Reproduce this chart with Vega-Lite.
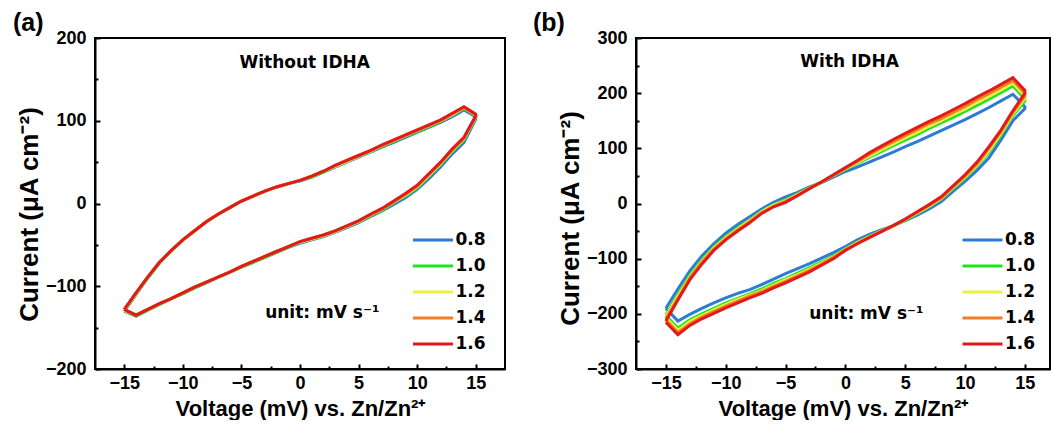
{
  "$schema": "https://vega.github.io/schema/vega-lite/v6.json",
  "padding": {"left": 12, "top": 10, "right": 0, "bottom": 0},
  "bounds": "flush",
  "spacing": 131,
  "config": {
    "view": {"stroke": "black", "strokeWidth": 2},
    "font": "Liberation Sans",
    "axis": {"domainColor": "black", "domainWidth": 2, "tickColor": "black", "tickWidth": 2, "tickSize": -5, "labelColor": "black", "titleColor": "black", "labelFont": "Liberation Sans", "titleFont": "Liberation Sans", "labelFontSize": 18, "labelFontWeight": "bold", "titleFontSize": 22, "titleFontWeight": "bold", "grid": false},
    "axisX": {"labelPadding": 10, "titlePadding": 6},
    "axisY": {"labelPadding": 14, "titlePadding": 3, "titleFontSize": 26},
    "legend": {"orient": "none", "title": null, "symbolType": "M-4,0H4", "symbolSize": 100, "symbolStrokeWidth": 3, "labelFont": "DejaVu Sans", "labelFontSize": 17, "labelFontWeight": "bold", "labelColor": "black", "rowPadding": 8, "labelOffset": 14, "padding": 0},
    "title": {"font": "Liberation Sans", "fontSize": 25, "fontWeight": "bold", "color": "black", "anchor": "start", "frame": "group", "offset": -7}
  },
  "datasets": {
    "a": [
      {"i":0,"v":-15,"0.8":-130,"1.0":-129,"1.2":-129,"1.4":-128,"1.6":-128},
      {"i":1,"v":-14,"0.8":-110,"1.0":-109,"1.2":-109,"1.4":-108,"1.6":-108},
      {"i":2,"v":-13,"0.8":-90,"1.0":-90,"1.2":-89,"1.4":-89,"1.6":-89},
      {"i":3,"v":-12,"0.8":-72,"1.0":-72,"1.2":-71,"1.4":-71,"1.6":-71},
      {"i":4,"v":-11,"0.8":-57,"1.0":-57,"1.2":-57,"1.4":-57,"1.6":-57},
      {"i":5,"v":-10,"0.8":-44,"1.0":-44,"1.2":-44,"1.4":-44,"1.6":-44},
      {"i":6,"v":-9,"0.8":-33,"1.0":-33,"1.2":-33,"1.4":-33,"1.6":-33},
      {"i":7,"v":-8,"0.8":-22,"1.0":-22,"1.2":-22,"1.4":-22,"1.6":-22},
      {"i":8,"v":-7,"0.8":-13,"1.0":-13,"1.2":-13,"1.4":-13,"1.6":-13},
      {"i":9,"v":-6,"0.8":-5,"1.0":-5,"1.2":-5,"1.4":-5,"1.6":-5},
      {"i":10,"v":-5,"0.8":3,"1.0":3,"1.2":3,"1.4":3,"1.6":3},
      {"i":11,"v":-4,"0.8":9,"1.0":9,"1.2":9,"1.4":9,"1.6":9},
      {"i":12,"v":-3,"0.8":15,"1.0":15,"1.2":15,"1.4":15,"1.6":15},
      {"i":13,"v":-2,"0.8":20,"1.0":20,"1.2":20,"1.4":20,"1.6":20},
      {"i":14,"v":-1,"0.8":24,"1.0":24,"1.2":24,"1.4":24,"1.6":24},
      {"i":15,"v":0,"0.8":27,"1.0":28,"1.2":28,"1.4":28,"1.6":28},
      {"i":16,"v":1,"0.8":32,"1.0":32,"1.2":33,"1.4":33,"1.6":33},
      {"i":17,"v":2,"0.8":38,"1.0":38,"1.2":39,"1.4":39,"1.6":39},
      {"i":18,"v":3,"0.8":44,"1.0":45,"1.2":45,"1.4":46,"1.6":46},
      {"i":19,"v":4,"0.8":50,"1.0":51,"1.2":51,"1.4":52,"1.6":52},
      {"i":20,"v":5,"0.8":56,"1.0":57,"1.2":57,"1.4":58,"1.6":58},
      {"i":21,"v":6,"0.8":62,"1.0":63,"1.2":63,"1.4":64,"1.6":64},
      {"i":22,"v":7,"0.8":68,"1.0":69,"1.2":70,"1.4":70,"1.6":71},
      {"i":23,"v":8,"0.8":74,"1.0":75,"1.2":76,"1.4":76,"1.6":77},
      {"i":24,"v":9,"0.8":80,"1.0":81,"1.2":82,"1.4":82,"1.6":83},
      {"i":25,"v":10,"0.8":86,"1.0":87,"1.2":88,"1.4":88,"1.6":89},
      {"i":26,"v":11,"0.8":92,"1.0":93,"1.2":94,"1.4":94,"1.6":95},
      {"i":27,"v":12,"0.8":98,"1.0":99,"1.2":100,"1.4":100,"1.6":101},
      {"i":28,"v":13,"0.8":105,"1.0":107,"1.2":107,"1.4":108,"1.6":109},
      {"i":29,"v":14,"0.8":113,"1.0":115,"1.2":116,"1.4":116,"1.6":117},
      {"i":30,"v":15,"0.8":105,"1.0":106,"1.2":107,"1.4":107,"1.6":108},
      {"i":31,"v":15,"0.8":102,"1.0":104,"1.2":105,"1.4":105,"1.6":106},
      {"i":32,"v":14,"0.8":74,"1.0":77,"1.2":78,"1.4":79,"1.6":80},
      {"i":33,"v":13,"0.8":60,"1.0":63,"1.2":64,"1.4":65,"1.6":66},
      {"i":34,"v":12,"0.8":44,"1.0":47,"1.2":48,"1.4":49,"1.6":50},
      {"i":35,"v":11,"0.8":30,"1.0":33,"1.2":34,"1.4":35,"1.6":36},
      {"i":36,"v":10,"0.8":17,"1.0":19,"1.2":20,"1.4":21,"1.6":22},
      {"i":37,"v":9,"0.8":7,"1.0":9,"1.2":10,"1.4":11,"1.6":12},
      {"i":38,"v":8,"0.8":-1,"1.0":1,"1.2":2,"1.4":2,"1.6":3},
      {"i":39,"v":7,"0.8":-9,"1.0":-8,"1.2":-7,"1.4":-7,"1.6":-6},
      {"i":40,"v":6,"0.8":-16,"1.0":-15,"1.2":-14,"1.4":-14,"1.6":-13},
      {"i":41,"v":5,"0.8":-23,"1.0":-22,"1.2":-22,"1.4":-21,"1.6":-21},
      {"i":42,"v":4,"0.8":-29,"1.0":-28,"1.2":-28,"1.4":-27,"1.6":-27},
      {"i":43,"v":3,"0.8":-35,"1.0":-34,"1.2":-34,"1.4":-33,"1.6":-33},
      {"i":44,"v":2,"0.8":-40,"1.0":-39,"1.2":-39,"1.4":-38,"1.6":-38},
      {"i":45,"v":1,"0.8":-44,"1.0":-43,"1.2":-43,"1.4":-42,"1.6":-42},
      {"i":46,"v":0,"0.8":-48,"1.0":-47,"1.2":-47,"1.4":-46,"1.6":-46},
      {"i":47,"v":-1,"0.8":-53,"1.0":-53,"1.2":-52,"1.4":-52,"1.6":-52},
      {"i":48,"v":-2,"0.8":-59,"1.0":-59,"1.2":-58,"1.4":-58,"1.6":-58},
      {"i":49,"v":-3,"0.8":-65,"1.0":-65,"1.2":-64,"1.4":-64,"1.6":-64},
      {"i":50,"v":-4,"0.8":-71,"1.0":-71,"1.2":-70,"1.4":-70,"1.6":-70},
      {"i":51,"v":-5,"0.8":-77,"1.0":-77,"1.2":-76,"1.4":-76,"1.6":-76},
      {"i":52,"v":-6,"0.8":-83,"1.0":-83,"1.2":-83,"1.4":-83,"1.6":-83},
      {"i":53,"v":-7,"0.8":-89,"1.0":-89,"1.2":-89,"1.4":-89,"1.6":-89},
      {"i":54,"v":-8,"0.8":-96,"1.0":-96,"1.2":-95,"1.4":-95,"1.6":-95},
      {"i":55,"v":-9,"0.8":-102,"1.0":-102,"1.2":-101,"1.4":-101,"1.6":-101},
      {"i":56,"v":-10,"0.8":-109,"1.0":-109,"1.2":-108,"1.4":-108,"1.6":-108},
      {"i":57,"v":-11,"0.8":-115,"1.0":-115,"1.2":-115,"1.4":-115,"1.6":-115},
      {"i":58,"v":-12,"0.8":-122,"1.0":-122,"1.2":-121,"1.4":-121,"1.6":-121},
      {"i":59,"v":-13,"0.8":-129,"1.0":-129,"1.2":-128,"1.4":-128,"1.6":-128},
      {"i":60,"v":-14,"0.8":-136,"1.0":-136,"1.2":-135,"1.4":-135,"1.6":-135},
      {"i":61,"v":-15,"0.8":-130,"1.0":-129,"1.2":-129,"1.4":-128,"1.6":-128}
    ],
    "b": [
      {"i":0,"v":-15,"0.8":-190,"1.0":-202,"1.2":-205,"1.4":-209,"1.6":-213},
      {"i":1,"v":-14,"0.8":-155,"1.0":-165,"1.2":-168,"1.4":-172,"1.6":-175},
      {"i":2,"v":-13,"0.8":-122,"1.0":-130,"1.2":-133,"1.4":-135,"1.6":-138},
      {"i":3,"v":-12,"0.8":-95,"1.0":-103,"1.2":-105,"1.4":-107,"1.6":-110},
      {"i":4,"v":-11,"0.8":-73,"1.0":-79,"1.2":-81,"1.4":-83,"1.6":-85},
      {"i":5,"v":-10,"0.8":-54,"1.0":-60,"1.2":-62,"1.4":-64,"1.6":-66},
      {"i":6,"v":-9,"0.8":-38,"1.0":-44,"1.2":-46,"1.4":-48,"1.6":-50},
      {"i":7,"v":-8,"0.8":-24,"1.0":-30,"1.2":-31,"1.4":-33,"1.6":-35},
      {"i":8,"v":-7,"0.8":-10,"1.0":-14,"1.2":-15,"1.4":-17,"1.6":-18},
      {"i":9,"v":-6,"0.8":2,"1.0":-2,"1.2":-3,"1.4":-5,"1.6":-6},
      {"i":10,"v":-5,"0.8":12,"1.0":7,"1.2":5,"1.4":4,"1.6":2},
      {"i":11,"v":-4,"0.8":20,"1.0":17,"1.2":16,"1.4":15,"1.6":14},
      {"i":12,"v":-3,"0.8":30,"1.0":29,"1.2":28,"1.4":28,"1.6":27},
      {"i":13,"v":-2,"0.8":38,"1.0":39,"1.2":39,"1.4":39,"1.6":39},
      {"i":14,"v":-1,"0.8":48,"1.0":50,"1.2":51,"1.4":51,"1.6":52},
      {"i":15,"v":0,"0.8":58,"1.0":62,"1.2":63,"1.4":64,"1.6":65},
      {"i":16,"v":1,"0.8":66,"1.0":72,"1.2":74,"1.4":76,"1.6":78},
      {"i":17,"v":2,"0.8":75,"1.0":84,"1.2":86,"1.4":89,"1.6":92},
      {"i":18,"v":3,"0.8":84,"1.0":94,"1.2":97,"1.4":101,"1.6":104},
      {"i":19,"v":4,"0.8":93,"1.0":105,"1.2":108,"1.4":112,"1.6":116},
      {"i":20,"v":5,"0.8":103,"1.0":115,"1.2":119,"1.4":123,"1.6":127},
      {"i":21,"v":6,"0.8":112,"1.0":125,"1.2":129,"1.4":134,"1.6":138},
      {"i":22,"v":7,"0.8":122,"1.0":136,"1.2":140,"1.4":145,"1.6":149},
      {"i":23,"v":8,"0.8":132,"1.0":146,"1.2":150,"1.4":154,"1.6":159},
      {"i":24,"v":9,"0.8":142,"1.0":156,"1.2":161,"1.4":165,"1.6":170},
      {"i":25,"v":10,"0.8":152,"1.0":167,"1.2":171,"1.4":176,"1.6":181},
      {"i":26,"v":11,"0.8":163,"1.0":178,"1.2":183,"1.4":188,"1.6":193},
      {"i":27,"v":12,"0.8":174,"1.0":189,"1.2":194,"1.4":199,"1.6":204},
      {"i":28,"v":13,"0.8":186,"1.0":201,"1.2":206,"1.4":211,"1.6":216},
      {"i":29,"v":14,"0.8":198,"1.0":213,"1.2":218,"1.4":223,"1.6":228},
      {"i":30,"v":15,"0.8":175,"1.0":190,"1.2":195,"1.4":200,"1.6":205},
      {"i":31,"v":15,"0.8":172,"1.0":186,"1.2":191,"1.4":195,"1.6":200},
      {"i":32,"v":14,"0.8":150,"1.0":159,"1.2":162,"1.4":165,"1.6":168},
      {"i":33,"v":13,"0.8":115,"1.0":124,"1.2":127,"1.4":130,"1.6":133},
      {"i":34,"v":12,"0.8":83,"1.0":93,"1.2":96,"1.4":100,"1.6":103},
      {"i":35,"v":11,"0.8":60,"1.0":68,"1.2":70,"1.4":72,"1.6":75},
      {"i":36,"v":10,"0.8":40,"1.0":46,"1.2":48,"1.4":50,"1.6":52},
      {"i":37,"v":9,"0.8":22,"1.0":27,"1.2":29,"1.4":30,"1.6":32},
      {"i":38,"v":8,"0.8":3,"1.0":8,"1.2":9,"1.4":10,"1.6":12},
      {"i":39,"v":7,"0.8":-10,"1.0":-6,"1.2":-5,"1.4":-3,"1.6":-2},
      {"i":40,"v":6,"0.8":-21,"1.0":-18,"1.2":-17,"1.4":-16,"1.6":-15},
      {"i":41,"v":5,"0.8":-31,"1.0":-30,"1.2":-29,"1.4":-29,"1.6":-28},
      {"i":42,"v":4,"0.8":-40,"1.0":-40,"1.2":-40,"1.4":-40,"1.6":-40},
      {"i":43,"v":3,"0.8":-48,"1.0":-50,"1.2":-50,"1.4":-51,"1.6":-51},
      {"i":44,"v":2,"0.8":-56,"1.0":-59,"1.2":-60,"1.4":-61,"1.6":-62},
      {"i":45,"v":1,"0.8":-66,"1.0":-70,"1.2":-71,"1.4":-72,"1.6":-73},
      {"i":46,"v":0,"0.8":-78,"1.0":-82,"1.2":-83,"1.4":-84,"1.6":-85},
      {"i":47,"v":-1,"0.8":-89,"1.0":-95,"1.2":-97,"1.4":-98,"1.6":-100},
      {"i":48,"v":-2,"0.8":-99,"1.0":-106,"1.2":-108,"1.4":-110,"1.6":-112},
      {"i":49,"v":-3,"0.8":-109,"1.0":-116,"1.2":-119,"1.4":-121,"1.6":-124},
      {"i":50,"v":-4,"0.8":-118,"1.0":-126,"1.2":-129,"1.4":-131,"1.6":-134},
      {"i":51,"v":-5,"0.8":-127,"1.0":-136,"1.2":-138,"1.4":-141,"1.6":-144},
      {"i":52,"v":-6,"0.8":-137,"1.0":-145,"1.2":-148,"1.4":-150,"1.6":-153},
      {"i":53,"v":-7,"0.8":-147,"1.0":-155,"1.2":-158,"1.4":-160,"1.6":-163},
      {"i":54,"v":-8,"0.8":-156,"1.0":-164,"1.2":-166,"1.4":-168,"1.6":-171},
      {"i":55,"v":-9,"0.8":-163,"1.0":-172,"1.2":-174,"1.4":-177,"1.6":-180},
      {"i":56,"v":-10,"0.8":-171,"1.0":-180,"1.2":-183,"1.4":-186,"1.6":-189},
      {"i":57,"v":-11,"0.8":-180,"1.0":-190,"1.2":-193,"1.4":-196,"1.6":-199},
      {"i":58,"v":-12,"0.8":-190,"1.0":-200,"1.2":-203,"1.4":-206,"1.6":-209},
      {"i":59,"v":-13,"0.8":-201,"1.0":-211,"1.2":-214,"1.4":-218,"1.6":-221},
      {"i":60,"v":-14,"0.8":-213,"1.0":-226,"1.2":-230,"1.4":-234,"1.6":-238},
      {"i":61,"v":-15,"0.8":-190,"1.0":-203,"1.2":-207,"1.4":-211,"1.6":-215}
    ]
  },
  "hconcat": [
    {
      "width": 410,
      "height": 331,
      "title": {"text": "(a)", "dx": -82},
      "layer": [
        {
          "data": {"name": "a"},
          "transform": [{"fold": ["0\\.8", "1\\.0", "1\\.2", "1\\.4", "1\\.6"], "as": ["rate", "cur"]}],
          "mark": {"type": "line", "strokeWidth": 3, "strokeJoin": "miter"},
          "encoding": {
            "x": {"field": "v", "type": "quantitative", "scale": {"domain": [-17.5, 17.5], "nice": false, "zero": false}, "axis": {"orient": "bottom", "values": [-15, -10, -5, 0, 5, 10, 15], "title": "Voltage (mV) vs. Zn/Zn²⁺"}},
            "y": {"field": "cur", "type": "quantitative", "scale": {"domain": [-200, 200], "nice": false, "zero": false}, "axis": {"orient": "left", "values": [-200, -100, 0, 100, 200], "title": "Current (μA cm⁻²)", "titleY": 176}},
            "color": {"field": "rate", "type": "nominal", "scale": {"domain": ["0.8", "1.0", "1.2", "1.4", "1.6"], "range": ["#2E7BD6", "#1EE61E", "#EEEE44", "#F57C26", "#E21A1A"]},
              "legend": {"legendX": 329.5, "legendY": 193.5}},
            "order": {"field": "i", "type": "quantitative"}
          }
        },
        {
          "data": {"values": [{"t": "Without IDHA", "x": 0.4, "y": 170}, {"t": "unit: mV s⁻¹", "x": 1.9, "y": -132}]},
          "mark": {"type": "text", "font": "DejaVu Sans", "fontSize": 17, "fontWeight": "bold", "color": "black", "align": "center", "baseline": "middle"},
          "encoding": {
            "x": {"field": "x", "type": "quantitative", "scale": {"domain": [-17.5, 17.5], "nice": false, "zero": false}, "axis": {"orient": "bottom", "values": [-12.5, -7.5, -2.5, 2.5, 7.5, 12.5], "labels": false, "domain": false, "title": null, "tickSize": -3}},
            "y": {"field": "y", "type": "quantitative", "scale": {"domain": [-200, 200], "nice": false, "zero": false}, "axis": {"orient": "left", "values": [-150, -50, 50, 150], "labels": false, "domain": false, "title": null, "tickSize": -3}},
            "text": {"field": "t", "type": "nominal"}
          }
        }
      ],
      "resolve": {"axis": {"x": "independent", "y": "independent"}}
    },
    {
      "width": 414,
      "height": 331,
      "title": {"text": "(b)", "dx": -103},
      "layer": [
        {
          "data": {"name": "b"},
          "transform": [{"fold": ["0\\.8", "1\\.0", "1\\.2", "1\\.4", "1\\.6"], "as": ["rate", "cur"]}],
          "mark": {"type": "line", "strokeWidth": 3, "strokeJoin": "miter"},
          "encoding": {
            "x": {"field": "v", "type": "quantitative", "scale": {"domain": [-17.5, 17.1], "nice": false, "zero": false}, "axis": {"orient": "bottom", "values": [-15, -10, -5, 0, 5, 10, 15], "title": "Voltage (mV) vs. Zn/Zn²⁺"}},
            "y": {"field": "cur", "type": "quantitative", "scale": {"domain": [-300, 300], "nice": false, "zero": false}, "axis": {"orient": "left", "values": [-300, -200, -100, 0, 100, 200, 300], "title": "Current (μA cm⁻²)", "titleY": 180}},
            "color": {"field": "rate", "type": "nominal", "scale": {"domain": ["0.8", "1.0", "1.2", "1.4", "1.6"], "range": ["#2E7BD6", "#1EE61E", "#EEEE44", "#F57C26", "#E21A1A"]},
              "legend": {"legendX": 338, "legendY": 193.5}},
            "order": {"field": "i", "type": "quantitative"}
          }
        },
        {
          "data": {"values": [{"t": "With IDHA", "x": 0.35, "y": 256}, {"t": "unit: mV s⁻¹", "x": 1.75, "y": -200}]},
          "mark": {"type": "text", "font": "DejaVu Sans", "fontSize": 17, "fontWeight": "bold", "color": "black", "align": "center", "baseline": "middle"},
          "encoding": {
            "x": {"field": "x", "type": "quantitative", "scale": {"domain": [-17.5, 17.1], "nice": false, "zero": false}, "axis": {"orient": "bottom", "values": [-12.5, -7.5, -2.5, 2.5, 7.5, 12.5], "labels": false, "domain": false, "title": null, "tickSize": -3}},
            "y": {"field": "y", "type": "quantitative", "scale": {"domain": [-300, 300], "nice": false, "zero": false}, "axis": {"orient": "left", "values": [-250, -150, -50, 50, 150, 250], "labels": false, "domain": false, "title": null, "tickSize": -3}},
            "text": {"field": "t", "type": "nominal"}
          }
        }
      ],
      "resolve": {"axis": {"x": "independent", "y": "independent"}}
    }
  ],
  "resolve": {"scale": {"color": "independent"}, "legend": {"color": "independent"}}
}
